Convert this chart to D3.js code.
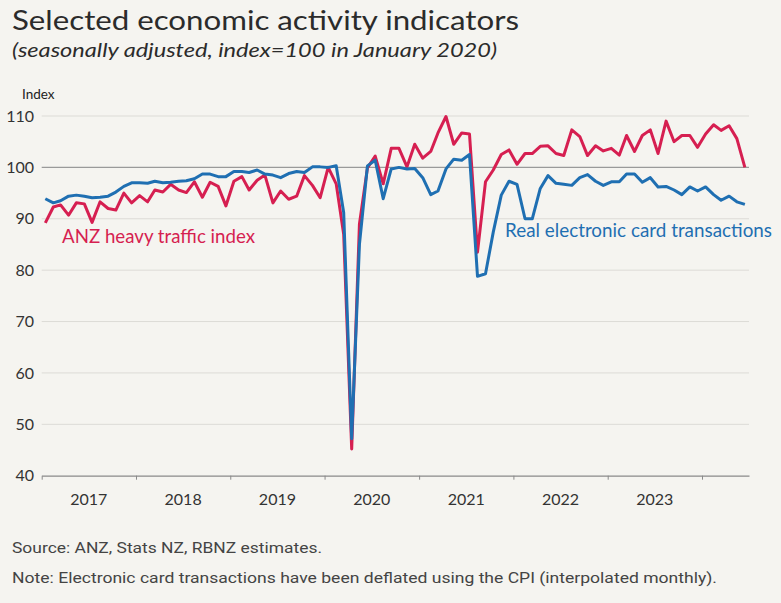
<!DOCTYPE html>
<html>
<head>
<meta charset="utf-8">
<script src="https://cdn.jsdelivr.net/npm/d3@7"></script>
<style>
  html, body { margin: 0; padding: 0; background: #f5f4f0; }
  svg { display: block; }
</style>
</head>
<body>
<svg id="chart" width="781" height="603"></svg>
<script>
// ---- Data (monthly, Jan 2017 .. Jun 2024) ----
const startMonth = "2017-01";
const heavyTraffic = [
  89.2, 92.3, 92.7, 90.7, 93.1, 92.9, 89.3, 93.3, 92.0, 91.7, 95.0, 93.1,
  94.5, 93.3, 95.6, 95.2, 96.7, 95.6, 95.1, 97.2, 94.2, 97.1, 96.3, 92.5,
  97.3, 98.2, 95.6, 97.5, 98.5, 93.1, 95.4, 93.8, 94.4, 98.4, 96.5, 94.1,
  100.0, 96.8, 87.0, 45.2, 89.0, 99.9, 102.2, 96.8, 103.7, 103.7, 100.1, 104.5,
  101.8, 103.1, 106.7, 109.9, 104.5, 106.7, 106.5, 83.5, 97.2, 99.5, 102.5, 103.4,
  100.6, 102.7, 102.7, 104.1, 104.2, 102.7, 102.3, 107.3, 106.0, 102.3, 104.2, 103.2,
  103.7, 102.4, 106.2, 103.1, 106.2, 107.3, 102.7, 109.0, 105.0, 106.2, 106.2, 103.9,
  106.5, 108.3, 107.2, 108.1, 105.6, 100.0
];
const cardTransactions = [
  93.9, 93.1, 93.5, 94.4, 94.6, 94.4, 94.1, 94.2, 94.4, 95.2, 96.3, 97.0,
  97.0, 96.9, 97.3, 97.0, 97.1, 97.3, 97.4, 97.8, 98.7, 98.7, 98.2, 98.2,
  99.2, 99.2, 99.0, 99.5, 98.7, 98.5, 98.0, 98.8, 99.2, 99.0, 100.1, 100.1,
  100.0, 100.3, 91.2, 47.2, 85.0, 100.3, 101.4, 93.9, 99.7, 100.0, 99.7, 99.8,
  98.0, 94.7, 95.4, 99.7, 101.6, 101.4, 102.5, 78.8, 79.3, 87.4, 94.6, 97.3,
  96.7, 90.0, 90.0, 95.9, 98.4, 96.9, 96.7, 96.5, 98.0, 98.6, 97.3, 96.5,
  97.2, 97.2, 98.7, 98.7, 97.1, 98.0, 96.2, 96.3, 95.6, 94.7, 96.2, 95.4,
  96.2, 94.7, 93.6, 94.4, 93.3, 92.8
];
const yTicks = [40, 50, 60, 70, 80, 90, 100, 110];
const yearLabels = [2017, 2018, 2019, 2020, 2021, 2022, 2023];
const yearTicks = [2017, 2018, 2019, 2020, 2021, 2022, 2023, 2024];
const seriesNames = ["ANZ heavy traffic index", "Real electronic card transactions"];
const titleText = "Selected economic activity indicators";
const subtitleText = "(seasonally adjusted, index=100 in January 2020)";
const sourceText = "Source: ANZ, Stats NZ, RBNZ estimates.";
const noteText = "Note: Electronic card transactions have been deflated using the CPI (interpolated monthly).";

(function () {
const svg = d3.select("#chart");
const RED = "#d61f51";
const BLUE = "#1f6fb2";
const pLeft = 41.7, pRight = 749, pTop = 116, pBottom = 475.7;
const FONT = "Lato, 'Open Sans', sans-serif";

const [sy, sm] = startMonth.split("-").map(Number);
const dateOf = i => new Date(sy, sm - 1 + i, 15);

const x = d3.scaleTime()
  .domain([new Date(2017, 0, 1), new Date(2024, 6, 1)])
  .range([pLeft, pRight]);
const y = d3.scaleLinear().domain([40, 110]).range([pBottom, pTop]);

svg.append("rect").attr("width", 781).attr("height", 603).attr("fill", "#f5f4f0");

// Titles
svg.append("text").attr("x", 12).attr("y", 30)
  .attr("font-family", FONT).attr("font-size", 26)
  .attr("fill", "#2b2b2b").attr("textLength", 507).attr("lengthAdjust", "spacingAndGlyphs")
  .text(titleText);
svg.append("text").attr("x", 12).attr("y", 57)
  .attr("font-family", FONT).attr("font-size", 19)
  .attr("font-style", "italic")
  .attr("fill", "#2b2b2b").attr("textLength", 485).attr("lengthAdjust", "spacingAndGlyphs")
  .text(subtitleText);

// Grid
svg.append("g").selectAll("line").data(yTicks.filter(d => d !== 40)).join("line")
  .attr("x1", pLeft).attr("x2", pRight)
  .attr("y1", d => y(d)).attr("y2", d => y(d))
  .attr("stroke", d => d === 100 ? "#9a9a9a" : "#dcdbd6")
  .attr("stroke-width", d => d === 100 ? 1.3 : 1);

// Y axis labels
svg.append("g").selectAll("text").data(yTicks).join("text")
  .attr("x", 34).attr("y", d => y(d)).attr("dy", "0.35em")
  .attr("text-anchor", "end")
  .attr("font-family", FONT).attr("font-size", 16)
  .attr("fill", "#333").text(d => d);
svg.append("text").attr("x", 22).attr("y", 99)
  .attr("font-family", FONT).attr("font-size", 13.5)
  .attr("fill", "#222").text("Index");

// X axis
const xAxis = d3.axisBottom(x)
  .tickValues(yearTicks.map(yr => new Date(yr, 0, 1)))
  .tickSize(4).tickSizeOuter(0).tickFormat("");
const gx = svg.append("g").attr("transform", `translate(0,${pBottom})`).call(xAxis);
gx.select(".domain").attr("stroke", "#8a8a8a").attr("stroke-width", 1.3);
gx.selectAll(".tick line").attr("stroke", "#8a8a8a");

svg.append("g").selectAll("text").data(yearLabels).join("text")
  .attr("x", yr => (x(new Date(yr, 0, 1)) + x(new Date(yr + 1, 0, 1))) / 2)
  .attr("y", 505).attr("text-anchor", "middle")
  .attr("font-family", FONT).attr("font-size", 16)
  .attr("fill", "#333").text(d => d);

// Lines
const line = d3.line().x((d, i) => x(dateOf(i))).y(d => y(d));
svg.append("path").datum(heavyTraffic).attr("d", line)
  .attr("fill", "none").attr("stroke", RED).attr("stroke-width", 3).attr("stroke-linejoin", "round");
svg.append("path").datum(cardTransactions).attr("d", line)
  .attr("fill", "none").attr("stroke", BLUE).attr("stroke-width", 3).attr("stroke-linejoin", "round");

// Series labels
svg.append("text").attr("x", 62).attr("y", 243)
  .attr("font-family", FONT).attr("font-size", 18.5)
  .attr("fill", RED).attr("textLength", 193).attr("lengthAdjust", "spacingAndGlyphs")
  .text(seriesNames[0]);
svg.append("text").attr("x", 505).attr("y", 237)
  .attr("font-family", FONT).attr("font-size", 18.5)
  .attr("fill", BLUE).attr("textLength", 267).attr("lengthAdjust", "spacingAndGlyphs")
  .text(seriesNames[1]);

// Footnotes
svg.append("text").attr("x", 12).attr("y", 553)
  .attr("font-family", "'Liberation Sans Narrow', Roboto, sans-serif").attr("font-size", 15.5)
  .attr("fill", "#444").attr("textLength", 310).attr("lengthAdjust", "spacingAndGlyphs")
  .text(sourceText);
svg.append("text").attr("x", 12).attr("y", 583)
  .attr("font-family", "'Liberation Sans Narrow', Roboto, sans-serif").attr("font-size", 15.5)
  .attr("fill", "#444").attr("textLength", 705).attr("lengthAdjust", "spacingAndGlyphs")
  .text(noteText);
})();
</script>
</body>
</html>
